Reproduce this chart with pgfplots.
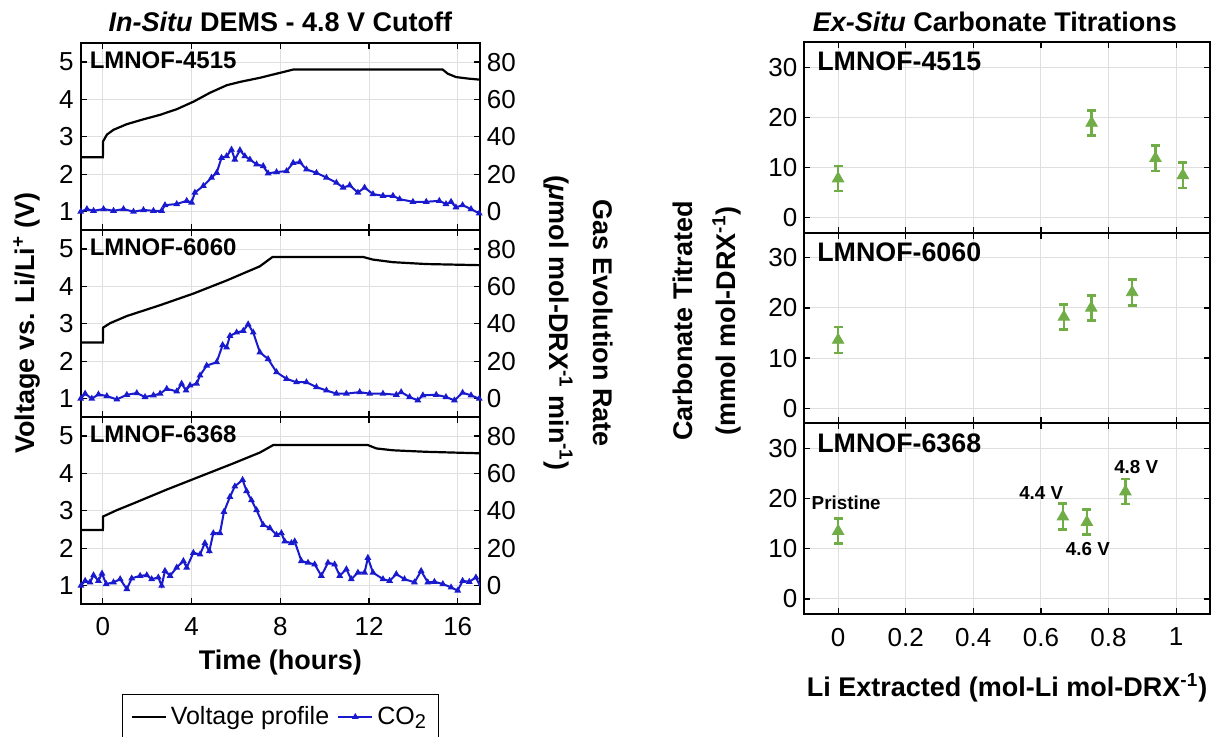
\documentclass[border=0pt]{standalone}
\usepackage{pgfplots}
\pgfplotsset{compat=1.18}
\usepackage{fontspec}
\setmainfont{Liberation Sans}
\definecolor{co2blue}{RGB}{25,25,205}
\definecolor{mgreen}{RGB}{112,173,71}
\newcommand{\fs}[1]{\fontsize{#1}{#1}\selectfont}

\tikzset{
  plabel/.style={anchor=west, font=\bfseries\fs{12pt}},
  rlabel/.style={anchor=west, font=\bfseries\fs{13.4pt}},
}
\pgfplotsset{
  mybase/.style={scale only axis, /pgf/number format/assume math mode=true,
    tick label style={font=\fs{13pt}},
    grid=major, grid style={gray!25, line width=0.5pt},
    tick align=inside, major tick length=3pt,
    axis line style={line width=0.9pt},
    every tick/.style={black, line width=0.6pt}},
  lpanel/.style={mybase, width=199.6pt, height=93.5pt, xmin=-1, xmax=17,
    ymin=0.5, ymax=5.5, xtick={0,4,8,12,16}, ytick={1,2,3,4,5}, ytick pos=left,
    xticklabel shift=3pt},
  lover/.style={mybase, width=199.6pt, height=93.5pt, xmin=-1, xmax=17,
    ymin=-10, ymax=90, ytick={0,20,40,60,80}, axis y line*=right,
    axis x line=none, grid=none},
  rpanel/.style={mybase, width=202.8pt, height=95.3pt, xmin=-0.1, xmax=1.1,
    ymin=-3, ymax=35, xtick={0,0.2,0.4,0.6,0.8,1}, ytick={0,10,20,30},
    xticklabel shift=3.5pt},
  volt/.style={black, line width=1.1pt},
  co2/.style={co2blue, line width=1pt, mark=triangle*, mark size=1pt},
  carb/.style={only marks, mark=triangle*, mark size=3.3pt, color=mgreen,
    error bars/.cd, y dir=both, y explicit,
    error bar style={line width=1.3pt, mgreen},
    error mark options={rotate=90, mark size=2.2pt, line width=1.3pt, mgreen}},
}

\begin{document}
\begin{tikzpicture}
\useasboundingbox (0,0) rectangle (606pt,368.5pt);

% ---------------- LEFT PANEL 1 ----------------
\begin{axis}[lpanel, at={(40.35pt,253.3pt)}, anchor=south west, xticklabels={},
  title={\textit{In-Situ} DEMS - 4.8 V Cutoff},
  title style={at={(0.5,1.05)}, anchor=center, yshift=0pt, font=\bfseries\fs{13.5pt}}]
\addplot[volt] table {
x y
-1 2.457
0 2.457
0.01 2.88
0.18 3.06
0.48 3.19
1.08 3.34
1.83 3.47
2.58 3.59
3.33 3.74
4.08 3.94
4.83 4.18
5.58 4.38
6.18 4.47
7.08 4.58
7.83 4.69
8.58 4.80
15.32 4.80
15.55 4.69
15.92 4.60
16.45 4.56
17 4.53
};
\node[plabel, xshift=1pt, yshift=-8.3pt] at (rel axis cs:0,1) {LMNOF-4515};
\end{axis}
\begin{axis}[lover, at={(40.35pt,253.3pt)}, anchor=south west]
\addplot[co2] table {
x y
-1.0 0
-0.72 1.4
-0.42 0.5
0.03 1.4
0.48 0.5
0.93 1.4
1.38 0
1.83 0.9
2.28 0.5
2.65 0.5
2.80 3.5
3.33 4.1
3.78 5.8
4.00 4.9
4.15 10.2
4.53 13.8
4.90 18.2
5.13 20.8
5.35 28.8
5.58 29.7
5.80 33.2
5.95 27.9
6.18 32.9
6.40 29.7
6.63 27.9
6.93 25.3
7.23 24.4
7.45 20.5
7.83 21.2
8.28 21.7
8.58 26.1
8.88 26.5
9.18 22.6
9.63 20.8
10.08 18.2
10.53 15.5
10.83 12.9
11.13 14.1
11.50 10.2
11.80 12.9
12.18 9.4
12.63 8.5
13.08 8.5
13.38 6.7
13.98 5.3
14.58 5.3
15.17 5.8
15.47 4.1
15.70 5.3
15.92 2.3
16.22 3.5
16.60 1.4
16.97 -0.9
};
\end{axis}

% ---------------- LEFT PANEL 2 ----------------
\begin{axis}[lpanel, at={(40.35pt,159.8pt)}, anchor=south west, xticklabels={}]
\addplot[volt] table {
x y
-1 2.50
0 2.50
0.01 2.90
0.33 3.02
1.08 3.21
2.58 3.50
4.08 3.81
5.58 4.16
7.08 4.54
7.65 4.79
11.73 4.79
12.17 4.72
13.08 4.65
14.58 4.60
17 4.57
};
\node[plabel, xshift=1pt, yshift=-8.3pt] at (rel axis cs:0,1) {LMNOF-6060};
\end{axis}
\begin{axis}[lover, at={(40.35pt,159.8pt)}, anchor=south west]
\addplot[co2] table {
x y
-1.0 0
-0.8 2.7
-0.5 0
-0.2 2.3
0.18 1.4
0.63 -0.4
1.08 2.1
1.53 3.0
1.9 0.9
2.28 1.8
2.58 2.7
2.88 5.3
3.33 3.9
3.55 8.0
3.75 4.4
3.93 7.1
4.23 8.0
4.38 12.4
4.68 17.7
5.13 19.5
5.40 28.7
5.58 27.4
5.73 33.6
6.03 35.4
6.33 36.3
6.55 39.8
6.78 35.4
7.08 24.8
7.45 21.2
7.83 14.2
8.28 10.6
8.73 8.8
9.18 8.8
9.63 6.2
10.08 4.4
10.53 2.7
10.98 2.7
11.58 3.5
12.03 2.7
12.63 2.7
13.23 2.1
13.45 3.5
13.83 0.9
14.20 -0.9
14.43 1.8
15.03 2.1
15.47 0.9
15.85 -0.9
16.22 3.2
16.60 1.8
16.97 0
};
\end{axis}

% ---------------- LEFT PANEL 3 ----------------
\begin{axis}[lpanel, at={(40.35pt,66.3pt)}, anchor=south west,
  xlabel={Time (hours)},
  xlabel style={at={(axis description cs:0.5,-0.309)}, anchor=center, font=\bfseries\fs{13.5pt}}]
\addplot[volt] table {
x y
-1 2.49
0 2.49
0.01 2.85
0.63 3.02
1.38 3.20
2.88 3.57
4.38 3.92
5.88 4.27
7.08 4.56
7.68 4.76
11.95 4.76
12.33 4.67
13.08 4.62
14.58 4.58
17 4.54
};
\node[plabel, xshift=1pt, yshift=-8.3pt] at (rel axis cs:0,1) {LMNOF-6368};
\end{axis}
\begin{axis}[lover, at={(40.35pt,66.3pt)}, anchor=south west,
  legend style={at={(0.5,-0.479)}, anchor=north, legend columns=2, draw=black,
    font=\fs{12.5pt}, inner sep=4pt, /tikz/every even column/.append style={column sep=2pt}},
  legend cell align=left]
\addlegendimage{black, line width=1pt}
\addlegendentry{Voltage profile}
\addplot[co2] table {
x y
-0.99 0
-0.8 2.6
-0.58 1.8
-0.42 5.6
-0.2 2.6
-0.04 6.5
0.15 0.9
0.48 1.8
0.78 3.5
1.08 -1.8
1.30 3.9
1.68 5.3
1.98 5.6
2.2 3.5
2.50 4.4
2.65 0
2.80 7.9
3.03 5.3
3.33 9.7
3.63 13.2
3.78 9.7
4.08 17.6
4.38 16.7
4.60 22.8
4.80 18.5
4.98 28.1
5.28 28.1
5.46 39.5
5.73 47.5
5.95 53.1
6.30 56.6
6.48 50.6
6.70 45.7
6.93 40.4
7.23 32.5
7.53 30.8
7.83 27.2
8.05 28.1
8.20 23.7
8.50 22.8
8.65 23.7
8.95 13.2
9.25 12.3
9.55 11.4
9.85 5.3
10.15 12.3
10.45 11.4
10.68 5.3
10.98 8.8
11.20 3.5
11.50 7.0
11.80 7.0
11.95 14.9
12.18 7.0
12.63 3.5
12.93 2.6
13.23 6.2
13.60 3.5
14.05 1.8
14.35 7.9
14.65 1.8
14.95 2.1
15.33 0.9
15.70 -0.9
16.00 -2.6
16.22 2.6
16.52 2.1
16.82 4.4
17.04 -0.9
};
\addlegendentry{CO\raisebox{-0.35ex}{\fs{10pt}2}}
\end{axis}

% ---------------- RIGHT PANEL 1 ----------------
\begin{axis}[rpanel, at={(402.15pt,252.15pt)}, anchor=south west, height=95.2pt, xticklabels={},
  title={\textit{Ex-Situ} Carbonate Titrations},
  title style={at={(0.47,1.045)}, anchor=center, yshift=0pt, font=\bfseries\fs{13.5pt}}]
\addplot[carb] table[x=x, y=y, y error=e] {
x y e
0 7.8 2.5
0.75 18.9 2.5
0.939 11.85 2.55
1.02 8.45 2.5
};
\node[rlabel, xshift=3pt, yshift=-9.7pt] at (rel axis cs:0,1) {LMNOF-4515};
\end{axis}

% ---------------- RIGHT PANEL 2 ----------------
\begin{axis}[rpanel, at={(402.15pt,156.85pt)}, anchor=south west, xticklabels={}]
\addplot[carb] table[x=x, y=y, y error=e] {
x y e
0 13.6 2.6
0.668 18.2 2.5
0.749 20.0 2.5
0.870 23.1 2.6
};
\node[rlabel, xshift=3pt, yshift=-9.7pt] at (rel axis cs:0,1) {LMNOF-6060};
\end{axis}

% ---------------- RIGHT PANEL 3 ----------------
\begin{axis}[rpanel, at={(402.15pt,61.5pt)}, anchor=south west,
  xlabel={Li Extracted (mol-Li mol-DRX\textsuperscript{-1})},
  xlabel style={at={(axis description cs:0.5,-0.388)}, anchor=center, font=\bfseries\fs{13.5pt}}]
\addplot[carb] table[x=x, y=y, y error=e] {
x y e
0 13.5 2.5
0.665 16.4 2.6
0.736 15.3 2.5
0.85 21.4 2.5
};
\node[rlabel, xshift=3pt, yshift=-10pt] at (rel axis cs:0,1) {LMNOF-6368};
\node[font=\bfseries\fs{9.4pt}] at (axis cs:0.024,19.1) {Pristine};
\node[font=\bfseries\fs{9.4pt}] at (axis cs:0.601,21.2) {4.4 V};
\node[font=\bfseries\fs{9.4pt}] at (axis cs:0.739,10.0) {4.6 V};
\node[font=\bfseries\fs{9.4pt}] at (axis cs:0.882,26.3) {4.8 V};
\end{axis}

% ---------------- AXIS LABELS ----------------
\node[rotate=90, font=\bfseries\fs{13.5pt}] at (13.5pt,207pt) {Voltage vs. Li/Li\textsuperscript{+} (V)};
\node[rotate=-90, font=\bfseries\fs{13.5pt}] at (301.5pt,207pt) {Gas Evolution Rate};
\node[rotate=-90, font=\bfseries\fs{13.5pt}] at (279pt,207pt) {(\textit{μ}mol mol-DRX\textsuperscript{-1} min\textsuperscript{-1})};
\node[rotate=90, font=\bfseries\fs{13.5pt}] at (341.5pt,208pt) {Carbonate Titrated};
\node[rotate=90, font=\bfseries\fs{13.5pt}] at (363.5pt,208pt) {(mmol mol-DRX\textsuperscript{-1})};
\end{tikzpicture}
\end{document}
